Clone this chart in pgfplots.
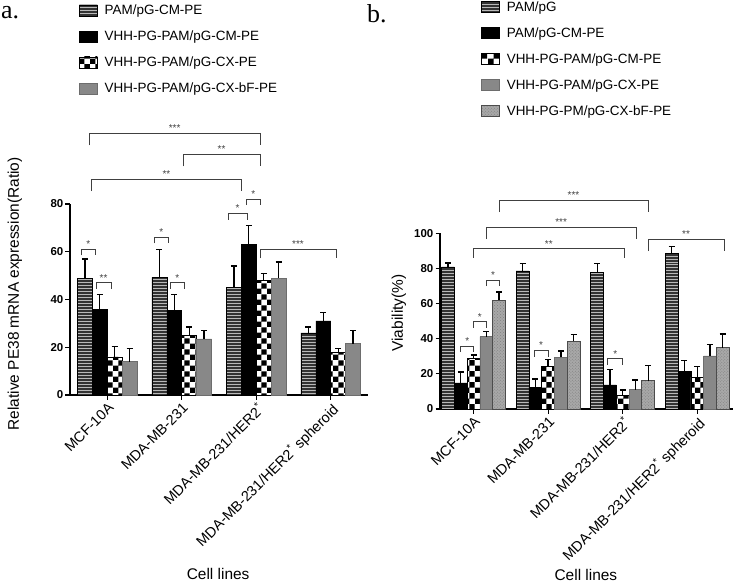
\documentclass[border=0pt]{standalone}
\usepackage{pgfplots}
\pgfplotsset{compat=1.18}
\usetikzlibrary{patterns}
\usepackage{fontspec}
\setmainfont{Liberation Sans}
\newfontfamily\seriffont{Liberation Serif}

\definecolor{gA}{HTML}{888888}
\definecolor{gB}{HTML}{A8A8A8}

\tikzset{
  sA/.style={fill=black!80, draw=black, line width=0.6bp, postaction={pattern=horizontal lines, pattern color=gray!55}},
  sB/.style={fill=black, draw=black, line width=0.6bp},
  sC/.style={fill=white, draw=black, line width=0.6bp, postaction={pattern=checkerboard, pattern color=black}},
  sD/.style={fill=gA, draw=gA!80!black, line width=0.6bp},
  sE/.style={fill=gB, draw=black!70, line width=0.6bp, postaction={pattern=crosshatch dots, pattern color=gray}},
}

\newcommand{\brk}[5]{%
  \draw[line width=0.8bp, black!75] ([yshift=-#4]axis cs:#1,#3) -- (axis cs:#1,#3) -- (axis cs:#2,#3) -- ([yshift=-#4]axis cs:#2,#3);
  \path (axis cs:#1,#3) -- node[above, inner sep=1.5bp, font=\fontsize{10}{10}\selectfont, text=black!75]{#5} (axis cs:#2,#3);
}

\newcommand{\lblfont}{\fontsize{15.5}{17}\selectfont}

\pgfplotsset{
  mybase/.style={
    scale only axis, anchor=south west,
    axis x line=bottom, axis y line=left,
    axis line style={-, line width=1.3bp},
    every tick/.style={black, line width=1.1bp},
    tick align=outside, major tick length=4.5bp,
    /pgf/number format/assume math mode=true,
    yticklabel style={font=\fontsize{11.5}{12}\selectfont\bfseries, inner sep=2bp},
    xticklabel style={font=\fontsize{14.5}{15}\selectfont, rotate=45, anchor=north east, inner sep=1.5bp},
    ymin=0, clip=false,
    xtick={0,1,2,3},
    xticklabels={MCF-10A, MDA-MB-231, {MDA-MB-231/HER2\textsuperscript{*}}, {MDA-MB-231/HER2\textsuperscript{*} spheroid}},
    xlabel={Cell lines},
    legend style={draw=none, fill=none, inner sep=0pt, anchor=north west,
      font=\fontsize{13.5}{15}\selectfont,
      cells={anchor=west, text height=10bp, text depth=3bp}, row sep=10.5bp},
    legend image code/.code={\draw[#1] (0bp,-5.5bp) rectangle (18bp,5.5bp); \path (23bp,0bp);},
    error bars/y dir=plus, error bars/y explicit,
    error bars/error bar style={line width=1.3bp, black},
    error bars/error mark options={rotate=90, black, line width=1.3bp, mark size=3bp},
  },
}

\begin{document}
\begin{tikzpicture}
\path[use as bounding box] (0bp,0bp) rectangle (736bp,585bp);
\node[anchor=base west, inner sep=0pt, font=\seriffont\fontsize{26}{26}\selectfont] at (1bp,566bp) {a.};
\node[anchor=base west, inner sep=0pt, font=\seriffont\fontsize{26}{26}\selectfont] at (367bp,562bp) {b.};

% ---------------- panel a ----------------
\begin{axis}[mybase,
  at={(70bp,190bp)}, width=298bp, height=191bp,
  xmin=-0.5, xmax=3.5, ymax=80,
  ytick={0,20,40,60,80},
  ylabel={Relative PE38 mRNA expression(Ratio)},
  every axis y label/.style={at={(axis description cs:-0.185,0.53)}, rotate=90, anchor=center, font=\lblfont},
  every axis x label/.style={at={(axis description cs:0.497,-0.937)}, anchor=center, font=\lblfont},
  legend style={at={(axis description cs:0.03,2.055)}},
]
\addplot[ybar, bar width=0.2, bar shift=0pt, sA] coordinates {
  (-0.3,49) +- (0,8) (0.7,49.3) +- (0,11.7) (1.7,45) +- (0,9) (2.7,26) +- (0,2.5)};
\addlegendentry{PAM/pG-CM-PE}
\addplot[ybar, bar width=0.2, bar shift=0pt, sB] coordinates {
  (-0.1,36) +- (0,6) (0.9,35.6) +- (0,6.4) (1.9,63) +- (0,8) (2.9,31) +- (0,3.7)};
\addlegendentry{VHH-PG-PAM/pG-CM-PE}
\addplot[ybar, bar width=0.2, bar shift=0pt, sC] coordinates {
  (0.1,16) +- (0,4.4) (1.1,25) +- (0,3.5) (2.1,48) +- (0,3) (3.1,18) +- (0,1.6)};
\addlegendentry{VHH-PG-PAM/pG-CX-PE}
\addplot[ybar, bar width=0.2, bar shift=0pt, sD] coordinates {
  (0.3,14) +- (0,5.6) (1.3,23.5) +- (0,3.5) (2.3,49) +- (0,6.7) (3.3,21.5) +- (0,5.5)};
\addlegendentry{VHH-PG-PAM/pG-CX-bF-PE}
\brk{-0.35}{-0.16}{61}{6bp}{*}
\brk{-0.15}{0.05}{47}{6bp}{**}
\brk{0.63}{0.82}{66}{6bp}{*}
\brk{0.85}{1.03}{47}{6bp}{*}
\brk{1.62}{1.88}{76}{6bp}{*}
\brk{1.87}{2.05}{82}{6bp}{*}
\brk{2.05}{3.07}{61}{9bp}{***}
\brk{-0.24}{2.05}{109.6}{12bp}{***}
\brk{1.02}{2.05}{100.8}{12bp}{**}
\brk{-0.21}{1.8}{90.4}{12bp}{**}
\end{axis}

% ---------------- panel b ----------------
\begin{axis}[mybase,
  at={(440bp,176bp)}, width=293bp, height=175.5bp,
  xmin=-0.45, xmax=3.48, ymax=100,
  ytick={0,20,40,60,80,100},
  ylabel={Viability(\%)},
  every axis y label/.style={at={(axis description cs:-0.14,0.547)}, rotate=90, anchor=center, font=\lblfont},
  every axis x label/.style={at={(axis description cs:0.498,-0.946)}, anchor=center, font=\lblfont},
  legend style={at={(axis description cs:0.14,2.335)}},
]
\addplot[ybar, bar width=0.171, bar shift=0pt, sA] coordinates {
  (-0.342,81) +- (0,2.2) (0.658,78.7) +- (0,4.2) (1.658,77.7) +- (0,5.3) (2.658,88.6) +- (0,3.8)};
\addlegendentry{PAM/pG}
\addplot[ybar, bar width=0.171, bar shift=0pt, sB] coordinates {
  (-0.171,14.9) +- (0,6.1) (0.829,12.4) +- (0,4.7) (1.829,13.7) +- (0,8.8) (2.829,21.5) +- (0,6.1)};
\addlegendentry{PAM/pG-CM-PE}
\addplot[ybar, bar width=0.171, bar shift=0pt, sC] coordinates {
  (0,28.8) +- (0,1.9) (1,24.4) +- (0,3.8) (2,7.6) +- (0,3.3) (3,18.1) +- (0,6.1)};
\addlegendentry{VHH-PG-PAM/pG-CM-PE}
\addplot[ybar, bar width=0.171, bar shift=0pt, sD] coordinates {
  (0.171,41.3) +- (0,2.7) (1.171,29.5) +- (0,3.5) (2.171,11) +- (0,5.6) (3.171,30.3) +- (0,6.5)};
\addlegendentry{VHH-PG-PAM/pG-CX-PE}
\addplot[ybar, bar width=0.171, bar shift=0pt, sE] coordinates {
  (0.342,62) +- (0,4.7) (1.342,38.7) +- (0,3.8) (2.342,16.2) +- (0,8.4) (3.342,34.9) +- (0,7.8)};
\addlegendentry{VHH-PG-PM/pG-CX-bF-PE}
\brk{-0.17}{0}{35.8}{6bp}{*}
\brk{0}{0.17}{49.7}{6bp}{*}
\brk{0.17}{0.35}{73.5}{6bp}{*}
\brk{0.81}{1.0}{33.3}{6bp}{*}
\brk{1.8}{2.0}{28.6}{6bp}{*}
\brk{2.34}{3.36}{96.8}{12bp}{**}
\brk{0}{2.02}{91.3}{9bp}{**}
\brk{0.17}{2.18}{103.7}{12bp}{***}
\brk{0.34}{2.34}{119}{12bp}{***}
\end{axis}
\end{tikzpicture}
\end{document}
